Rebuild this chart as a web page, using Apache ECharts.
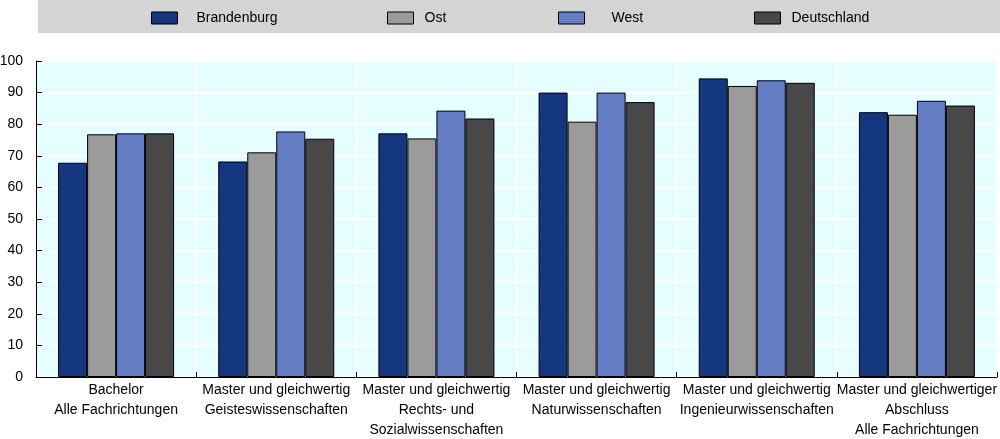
<!DOCTYPE html>
<html>
<head>
<meta charset="utf-8">
<script src="https://cdn.jsdelivr.net/npm/echarts@6/dist/echarts.min.js"></script>
<style>
  html, body { margin: 0; padding: 0; background: #fff; }
  #chart { width: 1000px; height: 439px; }
</style>
</head>
<body>
<div id="chart"></div>
<script>
// Kategorien und Werte
const categories = [
  'Bachelor\nAlle Fachrichtungen',
  'Master und gleichwertig\nGeisteswissenschaften',
  'Master und gleichwertig\nRechts- und\nSozialwissenschaften',
  'Master und gleichwertig\nNaturwissenschaften',
  'Master und gleichwertig\nIngenieurwissenschaften',
  'Master und gleichwertiger\nAbschluss\nAlle Fachrichtungen'
]
const brandenburg = [67.8, 68.2, 77.1, 90.0, 94.5, 83.8]
const ost = [76.8, 71.1, 75.5, 80.8, 92.1, 83.0]
const west = [77.1, 77.7, 84.3, 90.0, 93.9, 87.4]
const deutschland = [77.1, 75.4, 81.8, 87.0, 93.1, 85.9]
const seriesNames = ['Brandenburg', 'Ost', 'West', 'Deutschland']
const colors = ['#15377f', '#9b9b9b', '#647ec6', '#484848']

const font = '"Liberation Sans", Arial, sans-serif'

const chart = echarts.init(document.getElementById('chart'))

const mkSeries = (name, data, i) => ({
  name: name,
  type: 'bar',
  data: data,
  barWidth: 29,
  barGap: '0%',
  itemStyle: {
    color: colors[i],
    borderColor: '#000',
    borderWidth: 1
  }
})

// jede Legende einzeln platziert, wie im Original
const legendLeft = [151, 387, 558, 754]
const legendPad = [14, 6, 22, 6]
const legends = seriesNames.map((n, i) => ({
  top: 11,
  left: legendLeft[i],
  padding: 0,
  itemWidth: 26,
  itemHeight: 12,
  icon: 'rect',
  itemStyle: { borderColor: '#000', borderWidth: 1 },
  textStyle: { fontSize: 14, color: '#000', fontFamily: font, padding: [0, 0, 0, legendPad[i]] },
  data: [n]
}))

chart.setOption({
  animation: false,
  textStyle: { fontFamily: font },
  graphic: [
    {
      type: 'rect',
      left: 38,
      top: 0,
      shape: { width: 962, height: 33 },
      style: { fill: '#d4d4d4' },
      z: -10
    }
  ],
  legend: legends,
  grid: {
    left: 36,
    right: 3,
    top: 61,
    bottom: 62,
    outerBoundsMode: 'none',
    show: true,
    backgroundColor: '#e5feff',
    borderColor: '#000',
    borderWidth: 1
  },
  xAxis: {
    type: 'category',
    data: categories,
    axisLine: { lineStyle: { color: '#000' } },
    axisTick: { show: true, inside: true, length: 5, lineStyle: { color: '#000' } },
    splitLine: { show: true, lineStyle: { color: '#fff', width: 2 } },
    axisLabel: {
      interval: 0,
      color: '#000',
      fontSize: 14,
      lineHeight: 20,
      margin: 3,
      fontFamily: font
    }
  },
  yAxis: {
    type: 'value',
    min: 0,
    max: 100,
    interval: 10,
    axisLine: { show: true, lineStyle: { color: '#000' } },
    axisTick: { show: true, inside: true, length: 6, lineStyle: { color: '#000' } },
    splitLine: { lineStyle: { color: '#fff', width: 2 } },
    axisLabel: { color: '#000', fontSize: 14, margin: 13, fontFamily: font }
  },
  series: [
    mkSeries(seriesNames[0], brandenburg, 0),
    mkSeries(seriesNames[1], ost, 1),
    mkSeries(seriesNames[2], west, 2),
    mkSeries(seriesNames[3], deutschland, 3)
  ]
})
</script>
</body>
</html>
